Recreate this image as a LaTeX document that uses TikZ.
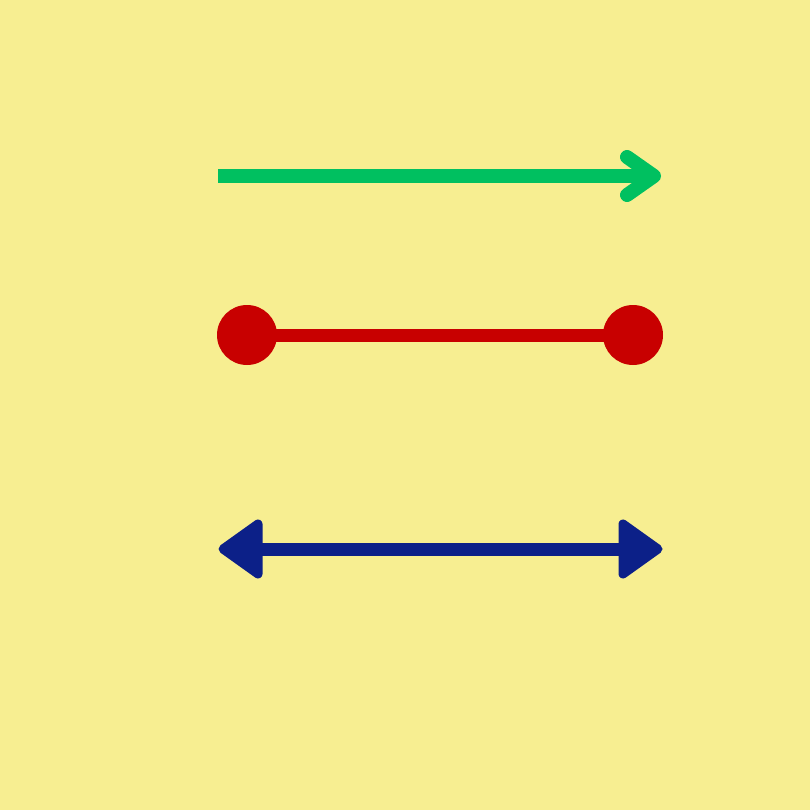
\documentclass[tikz,border=0pt]{standalone}
\definecolor{bg}{HTML}{F7EE91}
\definecolor{arrgreen}{HTML}{00C060}
\definecolor{arrred}{HTML}{C80000}
\definecolor{arrblue}{HTML}{0C2088}
\begin{document}
\begin{tikzpicture}[x=1pt,y=-1pt,
  greenline/.style={draw=arrgreen,line width=14pt},
  redline/.style={draw=arrred,line width=13pt},
  blueline/.style={draw=arrblue,line width=13pt},
  bluehead/.style={fill=arrblue,draw=arrblue,line width=9pt,line join=round}]
\fill[bg] (0,0) rectangle (810,810);
\useasboundingbox (0,0) rectangle (810,810);
% green arrow
\coordinate (g1) at (218,176);
\coordinate (g2) at (654,176);
\draw[greenline] (g1) -- (g2);
\draw[greenline,line cap=round,line join=round] (627,157) -- (g2) -- (627,195);
% red line with dots
\coordinate (r1) at (247,335);
\coordinate (r2) at (633,335);
\draw[redline] (r1) -- (r2);
\fill[arrred] (r1) circle (30);
\fill[arrred] (r2) circle (30);
% blue double arrow
\coordinate (b1) at (223,549);
\coordinate (b2) at (658,549);
\draw[blueline] (255,549) -- (625,549);
\filldraw[bluehead] (b1) -- (258,524) -- (258,574) -- cycle;
\filldraw[bluehead] (b2) -- (623,524) -- (623,574) -- cycle;
\end{tikzpicture}
\end{document}
